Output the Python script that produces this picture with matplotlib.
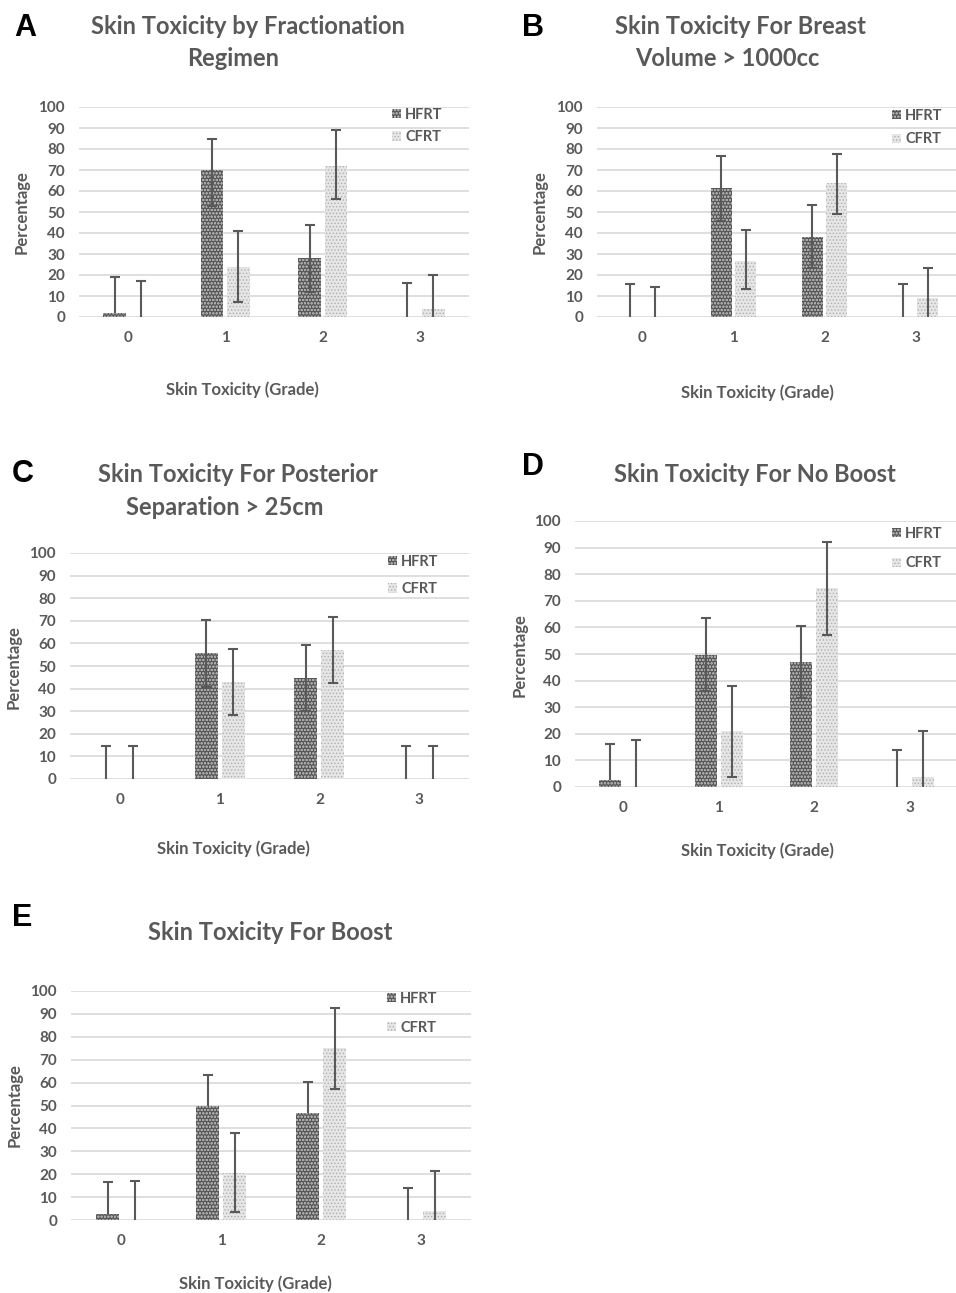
import matplotlib.pyplot as plt
import numpy as np
from matplotlib.patches import Patch


fig_w, fig_h = 956, 1293
output_dpi = 100
text_gray = '#595959'
grid_gray = '#d9d9d9'

grades = ['0', '1', '2', '3']
series_names = ['HFRT', 'CFRT']

# Values, in percent, per grade 0..3.
# "low" = lower whisker end (nan: no lower whisker visible).
a_hfrt = [2, 70, 28, 0]
a_hfrt_low = [np.nan, 53, 12, np.nan]
a_hfrt_high = [19, 85, 44, 16]
a_cfrt = [0, 24, 72, 4]
a_cfrt_low = [np.nan, 7, 56, 0]
a_cfrt_high = [17, 41, 89, 20]

b_hfrt = [0, 61.6, 38.3, 0]
b_hfrt_low = [np.nan, 45.7, 23.2, np.nan]
b_hfrt_high = [15.6, 76.7, 53.3, 15.6]
b_cfrt = [0, 26.8, 63.7, 9.2]
b_cfrt_low = [np.nan, 13.3, 49.2, 0]
b_cfrt_high = [14.1, 41.3, 77.5, 23.5]

c_hfrt = [0, 55.8, 44.7, 0]
c_hfrt_low = [np.nan, 40.7, 29.9, np.nan]
c_hfrt_high = [14.7, 70.5, 59.4, 14.7]
c_cfrt = [0, 42.8, 57.2, 0]
c_cfrt_low = [np.nan, 28.3, 42.3, np.nan]
c_cfrt_high = [14.7, 57.5, 71.7, 14.7]

d_hfrt = [2.8, 49.7, 47, 0]
d_hfrt_low = [np.nan, 36.1, 33.5, np.nan]
d_hfrt_high = [16.3, 63.7, 60.5, 13.8]
d_cfrt = [0, 20.9, 74.8, 3.9]
d_cfrt_low = [np.nan, 3.8, 57.3, 0]
d_cfrt_high = [17.5, 37.8, 92, 21]

e_hfrt = [2.6, 49.8, 46.8, 0]
e_hfrt_low = [np.nan, np.nan, np.nan, np.nan]
e_hfrt_high = [16.4, 63.4, 60.3, 13.8]
e_cfrt = [0, 20.5, 75, 4]
e_cfrt_low = [np.nan, 3.6, 57.3, 0]
e_cfrt_high = [17, 38, 92.5, 21.5]

titles = {
    'A': ['Skin Toxicity by Fractionation', 'Regimen'],
    'B': ['Skin Toxicity For Breast', 'Volume > 1000cc'],
    'C': ['Skin Toxicity For Posterior', 'Separation > 25cm'],
    'D': ['Skin Toxicity For No Boost'],
    'E': ['Skin Toxicity For Boost'],
}

# Layout in pixels of the reference image.
panels = [
    dict(key='A', data=(a_hfrt, a_hfrt_low, a_hfrt_high, a_cfrt, a_cfrt_low, a_cfrt_high),
         box=(79, 107, 469, 317), letter=(25, 28),
         title=[(248, 27), (233, 59)], ylab=(22, 212), xlab=(242, 390),
         legend=(392, 108), spacing=0.55),
    dict(key='B', data=(b_hfrt, b_hfrt_low, b_hfrt_high, b_cfrt, b_cfrt_low, b_cfrt_high),
         box=(597, 107, 961, 317), letter=(533, 28),
         title=[(740, 27), (727, 59)], ylab=(540, 212), xlab=(757, 393),
         legend=(892, 109), spacing=0.65),
    dict(key='C', data=(c_hfrt, c_hfrt_low, c_hfrt_high, c_cfrt, c_cfrt_low, c_cfrt_high),
         box=(70, 553, 469, 779), letter=(23, 474),
         title=[(238, 475), (225, 507)], ylab=(14, 667), xlab=(233, 849),
         legend=(388, 555), spacing=0.9),
    dict(key='D', data=(d_hfrt, d_hfrt_low, d_hfrt_high, d_cfrt, d_cfrt_low, d_cfrt_high),
         box=(575, 521, 958, 787), letter=(533, 467),
         title=[(755, 475)], ylab=(520, 655), xlab=(757, 851),
         legend=(892, 527), spacing=1.05),
    dict(key='E', data=(e_hfrt, e_hfrt_low, e_hfrt_high, e_cfrt, e_cfrt_low, e_cfrt_high),
         box=(71, 991, 471, 1220), letter=(22, 918),
         title=[(270, 933)], ylab=(15, 1105), xlab=(255, 1284),
         legend=(387, 992), spacing=1.0),
]

styles = [
    dict(facecolor='#575757', edgecolor='#a8a8a8', hatch='ooooo'),
    dict(facecolor='#e6e6e6', edgecolor='#b0b0b0', hatch='.....'),
]

plt.rcParams['font.family'] = ['Lato', 'DejaVu Sans']
plt.rcParams['hatch.linewidth'] = 0.6


def px(x, y):
    return x / fig_w, 1 - y / fig_h


def draw_errors(ax, xs, values, lows, highs):
    values = np.asarray(values, dtype=float)
    lows = np.asarray(lows, dtype=float)
    highs = np.asarray(highs, dtype=float)
    low_err = np.where(np.isnan(lows), 0, values - lows)
    ax.errorbar(xs, values, yerr=[low_err, highs - values], fmt='none',
                ecolor=text_gray, elinewidth=1.5, capsize=0, zorder=3)
    ax.plot(xs, highs, ls='none', marker='_', ms=7.5, mew=1.5,
            color=text_gray, zorder=3)
    capped = lows > 0
    ax.plot(xs[capped], lows[capped], ls='none', marker='_', ms=7.5,
            mew=1.5, color=text_gray, zorder=3)


fig = plt.figure(figsize=(fig_w / output_dpi, fig_h / output_dpi), dpi=output_dpi)

width = 0.23
offset = 0.135
x = np.arange(len(grades))

for p in panels:
    x0, y0, x1, y1 = p['box']
    left, top = px(x0, y0)
    right, bottom = px(x1, y1)
    ax = fig.add_axes([left, bottom, right - left, top - bottom])

    hfrt, hfrt_low, hfrt_high, cfrt, cfrt_low, cfrt_high = p['data']
    xs_h = x - offset
    xs_c = x + offset
    draw_errors(ax, xs_h, hfrt, hfrt_low, hfrt_high)
    draw_errors(ax, xs_c, cfrt, cfrt_low, cfrt_high)
    ax.bar(xs_h, hfrt, width, linewidth=0, zorder=2, **styles[0])
    ax.bar(xs_c, cfrt, width, linewidth=0, zorder=2, **styles[1])

    ax.set_xlim(-0.5, len(grades) - 0.5)
    ax.set_ylim(0, 100)
    ax.set_yticks(np.arange(0, 101, 10))
    ax.set_xticks(x, grades)
    ax.yaxis.grid(True, color=grid_gray, linewidth=1.2, zorder=0)
    ax.set_axisbelow(True)
    for spine in ax.spines.values():
        spine.set_visible(False)
    ax.tick_params(length=0, colors=text_gray, labelsize=11)
    ax.tick_params(axis='y', pad=10)
    ax.tick_params(axis='x', pad=10)
    for label in ax.get_xticklabels() + ax.get_yticklabels():
        label.set_fontweight('bold')

    handles = [Patch(linewidth=0, **s) for s in styles]
    lx, ly = p['legend']
    leg = ax.legend(handles, series_names, loc='upper left',
                    bbox_to_anchor=px(lx, ly), bbox_transform=fig.transFigure,
                    frameon=False, handlelength=0.6, handleheight=0.6,
                    handletextpad=0.3, labelspacing=p['spacing'],
                    borderpad=0, borderaxespad=0,
                    prop=dict(size=10.5, weight='bold'))
    for t in leg.get_texts():
        t.set_color(text_gray)

    fig.text(*px(*p['letter']), p['key'], ha='center', va='center',
             fontsize=22, fontweight='bold', color='black',
             family=['Liberation Sans', 'DejaVu Sans'])
    for line, pos in zip(titles[p['key']], p['title']):
        fig.text(*px(*pos), line, ha='center', va='center', fontsize=17,
                 fontweight='bold', color=text_gray)
    fig.text(*px(*p['ylab']), 'Percentage', ha='center', va='center',
             rotation=90, fontsize=12, fontweight='bold', color=text_gray)
    fig.text(*px(*p['xlab']), 'Skin Toxicity (Grade)', ha='center',
             va='center', fontsize=12, fontweight='bold', color=text_gray)

fig.savefig('out.png', dpi=output_dpi)
